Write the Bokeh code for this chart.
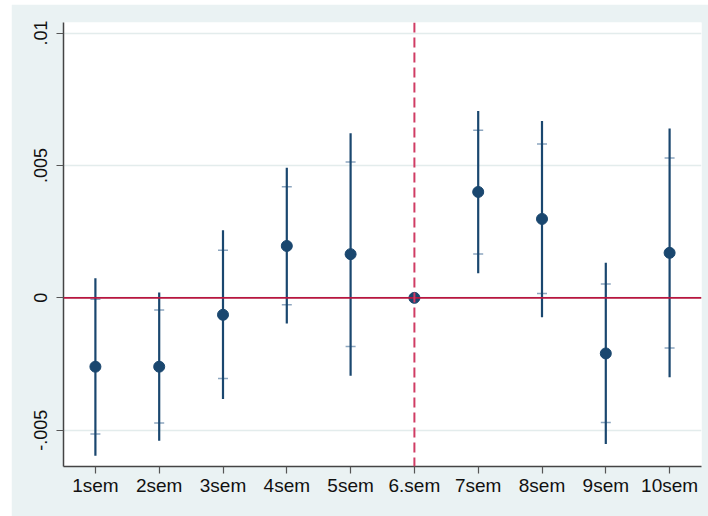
import math
from bokeh.plotting import figure
from bokeh.models import Span, FixedTicker, Range1d, ColumnDataSource, Spacer
from bokeh.layouts import row, column
from bokeh.embed import file_html
from bokeh.resources import INLINE

# ---- data ----
categories = ["1sem", "2sem", "3sem", "4sem", "5sem", "6.sem", "7sem", "8sem", "9sem", "10sem"]
coef = [-0.0026, -0.0026, -0.00064, 0.00196, 0.00165, 0.0, 0.0040, 0.00298, -0.0021, 0.0017]
ci_outer_low = [-0.00596, -0.0054, -0.00382, -0.00097, -0.00294, float("nan"), 0.00093, -0.00073, -0.00552, -0.0030]
ci_outer_high = [0.00074, 0.0002, 0.00255, 0.00491, 0.00622, float("nan"), 0.00706, 0.00668, 0.00133, 0.0064]
ci_inner_low = [-0.00514, -0.00473, -0.00305, -0.00026, -0.00184, float("nan"), 0.00166, 0.00016, -0.00471, -0.00189]
ci_inner_high = [-0.00005, -0.00046, 0.0018, 0.0042, 0.00513, float("nan"), 0.00633, 0.00581, 0.00052, 0.00528]
ref_category = "6.sem"
y_ticks = [-0.005, 0, 0.005, 0.01]
y_tick_labels = ["-.005", "0", ".005", ".01"]

x_pos = list(range(1, len(categories) + 1))
ref_x = categories.index(ref_category) + 1

src = ColumnDataSource(dict(x=x_pos, coef=coef, olo=ci_outer_low, ohi=ci_outer_high,
                            ilo=ci_inner_low, ihi=ci_inner_high))

BG = "#EAF2F3"
NAVY = "#1A476F"
FONT = "Liberation Sans"

p = figure(width=697, height=512, output_backend="svg", toolbar_location=None,
           x_range=Range1d(0.5, len(categories) + 0.5), y_range=Range1d(-0.00637, 0.0104),
           min_border_left=52, min_border_right=7, min_border_top=18, min_border_bottom=50)
p.background_fill_color = "white"
p.border_fill_color = BG
p.outline_line_color = None

# grids
p.xgrid.grid_line_color = None
p.ygrid.grid_line_color = "#E3ECEC"
p.ygrid.grid_line_width = 1.5
p.ygrid.ticker = FixedTicker(ticks=y_ticks)

# axes
p.yaxis.ticker = FixedTicker(ticks=y_ticks)
p.yaxis.major_label_overrides = dict(zip(y_ticks, y_tick_labels))
p.yaxis.major_label_orientation = "vertical"
p.xaxis.ticker = FixedTicker(ticks=x_pos)
p.xaxis.major_label_overrides = dict(zip(x_pos, categories))
for ax in (p.xaxis, p.yaxis):
    ax.axis_line_color = "#444444"
    ax.axis_line_width = 1.5
    ax.major_tick_line_color = "#555555"
    ax.major_tick_line_width = 1.2
    ax.major_tick_out = 7
    ax.major_tick_in = 0
    ax.minor_tick_line_color = None
    ax.major_label_text_font = FONT
    ax.major_label_text_color = "#111111"
p.xaxis.major_label_text_font_size = "19px"
p.yaxis.major_label_text_font_size = "18px"
p.xaxis.major_label_standoff = 1
p.yaxis.major_label_standoff = 9

# reference lines
p.add_layout(Span(location=0, dimension="width", line_color="#B8163F", line_width=1.6))
p.add_layout(Span(location=ref_x, dimension="height", line_color="#D03C64",
                  line_width=2, line_dash="10 5"))

# intervals
p.scatter("x", "ilo", source=src, marker="dash", size=10, line_color="#8DA6BF", line_width=1.5)
p.scatter("x", "ihi", source=src, marker="dash", size=10, line_color="#8DA6BF", line_width=1.5)
p.segment(x0="x", y0="olo", x1="x", y1="ohi", source=src, line_color=NAVY, line_width=2.2)
p.scatter("x", "coef", source=src, size=11, fill_color=NAVY, line_color=NAVY)

layout = column(Spacer(height=4), row(Spacer(width=11), p))
open("out.html", "w").write(file_html(layout, INLINE))
